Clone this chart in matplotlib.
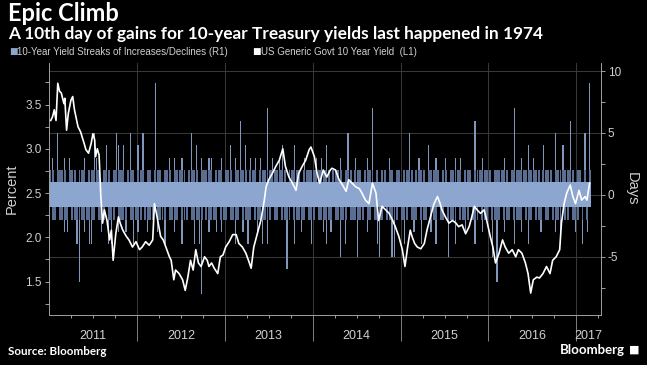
import matplotlib
matplotlib.use("Agg")
import matplotlib.pyplot as plt
import matplotlib.transforms as mtransforms
import numpy as np

# ---- data ----
# US Generic Govt 10 Year Yield (percent), x as decimal year
yield_x = [2011.02, 2011.04, 2011.06, 2011.08, 2011.10, 2011.12, 2011.14, 2011.17, 2011.18, 2011.20,
           2011.22, 2011.25, 2011.27, 2011.29, 2011.33, 2011.36, 2011.40, 2011.42, 2011.45, 2011.48,
           2011.50, 2011.52, 2011.53, 2011.55, 2011.57, 2011.59, 2011.61, 2011.63, 2011.66, 2011.69,
           2011.71, 2011.73, 2011.76, 2011.79, 2011.81, 2011.84, 2011.88, 2011.91, 2011.95, 2011.99,
           2012.03, 2012.06, 2012.10, 2012.14, 2012.18, 2012.20, 2012.23, 2012.27, 2012.30, 2012.33,
           2012.37, 2012.39, 2012.42, 2012.44, 2012.48, 2012.52, 2012.55, 2012.58, 2012.61, 2012.64,
           2012.67, 2012.70, 2012.73, 2012.77, 2012.80, 2012.82, 2012.85, 2012.88, 2012.92, 2012.95,
           2012.98, 2013.01, 2013.05, 2013.09, 2013.13, 2013.16, 2013.20, 2013.24, 2013.28, 2013.30,
           2013.33, 2013.37, 2013.41, 2013.45, 2013.47, 2013.50, 2013.54, 2013.58, 2013.62, 2013.66,
           2013.69, 2013.73, 2013.77, 2013.81, 2013.84, 2013.88, 2013.92, 2013.96, 2013.98, 2014.02,
           2014.05, 2014.08, 2014.12, 2014.16, 2014.20, 2014.22, 2014.26, 2014.30, 2014.34, 2014.38,
           2014.41, 2014.45, 2014.49, 2014.53, 2014.56, 2014.60, 2014.64, 2014.68, 2014.72, 2014.75,
           2014.79, 2014.83, 2014.87, 2014.91, 2014.94, 2014.98, 2015.02, 2015.05, 2015.08, 2015.11,
           2015.13, 2015.16, 2015.19, 2015.23, 2015.27, 2015.30, 2015.34, 2015.38, 2015.42, 2015.45,
           2015.47, 2015.51, 2015.55, 2015.59, 2015.63, 2015.66, 2015.70, 2015.74, 2015.78, 2015.81,
           2015.84, 2015.87, 2015.91, 2015.95, 2015.98, 2016.02, 2016.05, 2016.08, 2016.12, 2016.16,
           2016.19, 2016.23, 2016.27, 2016.31, 2016.34, 2016.38, 2016.42, 2016.45, 2016.48, 2016.51,
           2016.55, 2016.58, 2016.62, 2016.66, 2016.70, 2016.73, 2016.77, 2016.81, 2016.83, 2016.86,
           2016.89, 2016.93, 2016.96, 2016.99, 2017.03, 2017.06, 2017.10, 2017.12, 2017.15]
yield_y = [3.32, 3.36, 3.44, 3.32, 3.74, 3.65, 3.63, 3.51, 3.57, 3.21,
           3.40, 3.55, 3.59, 3.44, 3.25, 3.19, 3.06, 2.99, 2.95, 3.06,
           3.17, 3.10, 2.91, 3.00, 2.93, 2.46, 2.16, 2.31, 2.19, 1.97,
           2.08, 1.74, 2.04, 2.23, 2.16, 2.08, 2.01, 1.97, 1.89, 1.95,
           1.86, 1.89, 1.95, 1.91, 1.97, 2.38, 2.23, 2.01, 1.97, 1.89,
           1.78, 1.74, 1.52, 1.63, 1.59, 1.52, 1.40, 1.55, 1.74, 1.63,
           1.86, 1.71, 1.67, 1.78, 1.74, 1.67, 1.71, 1.65, 1.59, 1.78,
           1.80, 1.89, 1.95, 2.03, 2.03, 1.93, 1.89, 1.82, 1.71, 1.65,
           1.89, 2.04, 2.19, 2.42, 2.57, 2.65, 2.72, 2.80, 2.87, 3.00,
           2.80, 2.68, 2.61, 2.53, 2.72, 2.80, 2.87, 2.99, 3.02, 2.91,
           2.72, 2.61, 2.76, 2.68, 2.76, 2.78, 2.76, 2.65, 2.59, 2.52,
           2.65, 2.61, 2.57, 2.55, 2.50, 2.42, 2.38, 2.61, 2.50, 2.19,
           2.35, 2.31, 2.27, 2.19, 2.12, 2.01, 1.86, 1.67, 1.89, 2.08,
           2.01, 1.93, 1.89, 1.87, 1.93, 2.08, 2.23, 2.38, 2.46, 2.38,
           2.31, 2.23, 2.16, 2.19, 2.16, 2.12, 2.14, 2.04, 2.12, 2.23,
           2.35, 2.31, 2.27, 2.31, 2.19, 2.01, 1.89, 1.71, 1.82, 1.97,
           1.89, 1.82, 1.86, 1.78, 1.86, 1.82, 1.71, 1.59, 1.37, 1.52,
           1.55, 1.54, 1.59, 1.67, 1.59, 1.74, 1.78, 1.86, 2.16, 2.38,
           2.50, 2.59, 2.46, 2.38, 2.53, 2.42, 2.46, 2.42, 2.61]

# Yield streaks of increases / declines (days); one slot per 1/36 year from 2011
slot_start = 2011.0
slot_len = 1 / 36
streak_up = [2, 3, 1, 5, 2, 2, 3, 1, 3, 2, 2, 1, 2, 2, 3, 1, 2, 2,
             5, 3, 2, 1, 2, 4, 2, 1, 2, 5, 4, 2, 4, 1, 2, 5, 2, 1,
             4, 2, 5, 1, 2, 2, 1, 9, 2, 2, 1, 2, 2, 3, 1, 3, 2, 2,
             3, 2, 1, 2, 5, 2, 4, 1, 3, 2, 2, 3, 3, 1, 2, 2, 3, 1,
             2, 2, 4, 1, 3, 2, 6, 2, 4, 1, 3, 2, 3, 1, 3, 2, 2, 7,
             2, 3, 2, 2, 3, 4, 2, 1, 2, 2, 4, 2, 2, 1, 3, 2, 2, 2,
             2, 3, 2, 3, 2, 4, 2, 1, 2, 2, 2, 3, 1, 2, 5, 2, 1, 3,
             2, 2, 1, 2, 3, 2, 7, 1, 2, 1, 2, 2, 1, 3, 2, 1, 2, 2,
             1, 2, 2, 5, 2, 1, 2, 3, 2, 2, 1, 4, 2, 2, 3, 2, 1, 2,
             3, 1, 2, 2, 3, 2, 3, 1, 2, 2, 2, 1, 6, 2, 2, 3, 2, 2,
             2, 1, 2, 2, 2, 2, 3, 2, 1, 2, 7, 2, 2, 3, 2, 2, 4, 2,
             3, 2, 2, 1, 4, 2, 2, 2, 1, 5, 2, 2, 4, 2, 2, 6, 2, 1,
             2, 2, 1, 5, 1, 9]
streak_dn = [1, 2, 2, 1, 2, 2, 3, 3, 1, 2, 2, 4, 7, 2, 3, 2, 4, 4,
             2, 1, 2, 3, 2, 1, 4, 4, 2, 1, 3, 2, 2, 3, 1, 2, 4, 2,
             3, 2, 1, 2, 3, 2, 2, 1, 3, 2, 2, 4, 1, 2, 2, 3, 2, 1,
             4, 2, 2, 1, 2, 4, 2, 4, 8, 1, 2, 3, 2, 2, 3, 1, 3, 2,
             2, 1, 2, 2, 4, 2, 1, 3, 2, 4, 2, 1, 2, 3, 2, 4, 2, 4,
             2, 1, 2, 2, 1, 2, 2, 6, 2, 1, 4, 2, 2, 3, 2, 1, 2, 4,
             2, 1, 2, 2, 3, 4, 2, 3, 1, 2, 2, 5, 2, 4, 1, 2, 2, 2,
             5, 2, 2, 1, 3, 2, 1, 2, 4, 5, 2, 1, 2, 2, 5, 5, 2, 1,
             2, 4, 2, 1, 2, 3, 2, 1, 4, 2, 2, 1, 3, 2, 4, 1, 2, 2,
             1, 5, 2, 2, 4, 1, 2, 2, 3, 2, 1, 2, 4, 2, 1, 3, 2, 2,
             1, 5, 2, 7, 2, 1, 3, 2, 2, 1, 4, 2, 2, 3, 1, 2, 4, 2,
             1, 2, 2, 3, 1, 2, 2, 1, 2, 3, 2, 4, 1, 2, 2, 1, 2, 3,
             2, 1, 4, 1, 3, 1]

years = [2011, 2012, 2013, 2014, 2015, 2016, 2017]
x_end = 2017.28

# ---- style ----
bg = "#000000"
txt = "#d0d0d0"
bar_col = "#8da6cf"
mid_col = "#5a6d92"
tip_col = "#8196bb"
grid_col = "#3a3a3a"
spine_col = "#a0a0a0"
sans = ["Liberation Sans", "DejaVu Sans"]
head = ["Lato", "DejaVu Sans"]

fig = plt.figure(figsize=(6.47, 3.65), dpi=100, facecolor=bg)
ax2 = fig.add_axes([0.0757, 0.137, 0.8532, 0.6904], facecolor=bg)  # days (right)
ax = fig.add_axes(ax2.get_position(), sharex=ax2)                  # yield (left)
ax.patch.set_visible(False)

# bars in three layers: 0-1 full width, 1-2 darker, beyond 2 thin tips
xs = slot_start + (np.arange(len(streak_up)) + 0.5) * slot_len
up = np.array(streak_up, dtype=float)
dn = np.array(streak_dn, dtype=float)
for sign, v in ((1, up), (-1, dn)):
    c1 = np.minimum(v, 1)
    c2 = np.minimum(v, 2)
    ax2.bar(xs, sign * c1, width=slot_len, color=bar_col, linewidth=0, zorder=2)
    ax2.bar(xs, sign * (c2 - c1), bottom=sign * c1, width=slot_len * 0.8,
            color=mid_col, linewidth=0, zorder=2)
    ax2.bar(xs, sign * (v - c2), bottom=sign * c2, width=slot_len * 0.5,
            color=tip_col, linewidth=0, zorder=2)

# yield line
ax.plot(yield_x, yield_y, color="white", linewidth=1.2, zorder=3)

# limits
ax.set_xlim(2011.0, x_end)
ax.set_ylim(1.122, 3.969)
ax2.set_ylim(-9.7, 10.65)

# left (yield) axis
ax.yaxis.tick_left()
ax.set_yticks([1.5, 2.0, 2.5, 3.0, 3.5])
ax.set_yticklabels(["1.5", "2.0", "2.5", "3.0", "3.5"], family=sans)
ax.set_yticks(np.arange(1.25, 3.8, 0.25), minor=True)
ax.tick_params(axis="y", which="both", colors=spine_col, labelcolor=txt, labelsize=8.5,
               length=3, width=0.7, direction="out", pad=2)
ax.set_ylabel("Percent", color=txt, fontsize=10.5, labelpad=5, family=sans)
for s in ["top", "right", "bottom"]:
    ax.spines[s].set_visible(False)
ax.spines["left"].set_color(spine_col)
ax.spines["left"].set_linewidth(0.7)
ax.tick_params(axis="x", which="both", bottom=False, labelbottom=False)

# right (days) axis
ax2.yaxis.tick_right()
ax2.yaxis.set_label_position("right")
ax2.set_yticks([-5, 0, 5, 10])
ax2.set_yticklabels(["-5", "0", "5", "10"], family=sans)
ax2.set_yticks([-7.5, -2.5, 2.5, 7.5], minor=True)
ax2.tick_params(axis="y", which="both", colors=spine_col, labelcolor=txt, labelsize=8.5,
                length=3, width=0.7, direction="out", pad=2)
ax2.set_ylabel("Days", color=txt, fontsize=10.5, rotation=270, labelpad=13, family=sans)
ax2.spines["top"].set_visible(False)
ax2.spines["left"].set_visible(False)
for s in ["right", "bottom"]:
    ax2.spines[s].set_color(spine_col)
    ax2.spines[s].set_linewidth(0.7)

# x axis: separators at year starts, small quarter ticks
ax2.set_xticks(years[1:])
ax2.set_xticklabels([])
ax2.set_xticks([y + q for y in years for q in (0.25, 0.5, 0.75) if y + q < x_end], minor=True)
ax2.tick_params(axis="x", which="major", length=19, width=0.7, colors="#808080")
ax2.tick_params(axis="x", which="minor", length=2, width=0.7, colors=spine_col)
trans = mtransforms.blended_transform_factory(ax2.transData, ax2.transAxes)
for y in years:
    mid = (y + min(y + 1, x_end)) / 2
    ax2.text(mid, -0.083, str(y), transform=trans, ha="center", va="center",
             color=txt, fontsize=9, family=sans)

# grid
ax2.set_axisbelow(True)
ax2.grid(True, which="major", axis="both", color=grid_col, linewidth=0.7)

# titles & legend
fig.text(0.012, 0.962, "Epic Climb", color="white", fontsize=17, fontweight="bold",
         va="center", ha="left", family=head)
fig.text(0.012, 0.908, "A 10th day of gains for 10-year Treasury yields last happened in 1974",
         color="white", fontsize=12.4, fontweight="bold", va="center", ha="left", family=head)
fig.text(0.014, 0.858, "\u25a0", color=bar_col, fontsize=6.5, va="center", ha="left")
fig.text(0.026, 0.857, "10-Year Yield Streaks of Increases/Declines (R1)", color=txt,
         fontsize=7, va="center", ha="left", family=sans)
fig.text(0.389, 0.858, "\u25a0", color="white", fontsize=6.5, va="center", ha="left")
fig.text(0.403, 0.857, "US Generic Govt 10 Year Yield  (L1)", color=txt,
         fontsize=7, va="center", ha="left", family=sans)

fig.text(0.012, 0.037, "Source: Bloomberg", color="white", fontsize=8.4,
         fontweight="bold", va="center", ha="left", family=head)
fig.text(0.966, 0.04, "Bloomberg", color="white", fontsize=9.5, fontweight="bold",
         va="center", ha="right", family=head)
fig.text(0.989, 0.042, "\u25a0", color="white", fontsize=8, va="center", ha="right")

fig.savefig("out.png", dpi=100, facecolor=bg)
